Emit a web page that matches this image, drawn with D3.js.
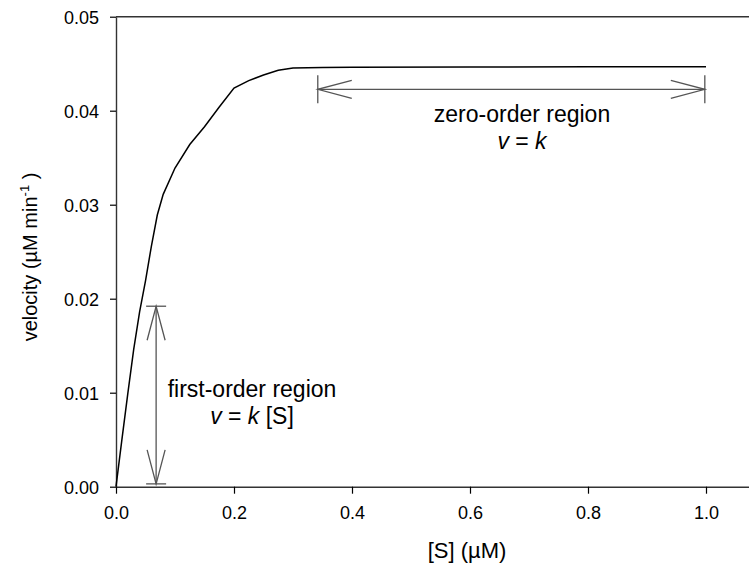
<!DOCTYPE html>
<html>
<head>
<meta charset="utf-8">
<script src="https://cdn.jsdelivr.net/npm/d3@7"></script>
<style>
  body { margin: 0; background: #fff; }
  svg { display: block; font-family: "Liberation Sans", Arial, sans-serif; }
</style>
</head>
<body>
<div id="div_id_main"></div>
<script>

var WIDTH = 749;
var HEIGHT = 568;

// substrate concentration [S] (uM) and velocity (uM/min)
var vSubstrate = [0, 0.01, 0.02, 0.03, 0.04, 0.05, 0.06, 0.07, 0.08, 0.1, 0.125, 0.15, 0.175, 0.2, 0.225, 0.25, 0.275, 0.3, 0.35, 0.4, 0.6, 0.8, 1.0];
var vVelocity  = [0, 0.0050, 0.0099, 0.0146, 0.0186, 0.0219, 0.0256, 0.0289, 0.0311, 0.0339, 0.0364, 0.0383, 0.0404, 0.0424, 0.0432, 0.0438, 0.0443, 0.04455, 0.0446, 0.04462, 0.04465, 0.04467, 0.04468];

var vTickX = [0.0, 0.2, 0.4, 0.6, 0.8, 1.0];
var vTickY = [0.00, 0.01, 0.02, 0.03, 0.04, 0.05];

// annotation arrows: [x1, y1, x2, y2] in data units
var vArrowFirst = [0.068, 0.0192, 0.068, 0.0003];
var vArrowZero  = [0.342, 0.04227, 0.998, 0.04227];

var MARGIN_LEFT = 116;
var MARGIN_TOP = 16.7;
var AXIS_BOTTOM = 486.7;

var fScale_X = d3.scaleLinear().domain([0, 1.1]).range([MARGIN_LEFT, MARGIN_LEFT + 1.1 * 590]);
var fScale_Y = d3.scaleLinear().domain([0, 0.05]).range([AXIS_BOTTOM, MARGIN_TOP]);

var svgMain = d3.select("#div_id_main")
				.append("svg")
					.attr("width", WIDTH)
					.attr("height", HEIGHT);

// ---------------------------------------------------------------
// axes

var axisX = d3.axisBottom(fScale_X)
				.tickValues(vTickX)
				.tickSizeInner(7)
				.tickSizeOuter(0)
				.tickPadding(8)
				.tickFormat(d3.format(".1f"));

var gAxisX = svgMain.append("g")
				.attr("transform", "translate(0," + AXIS_BOTTOM + ")")
				.call(axisX);

var axisY = d3.axisLeft(fScale_Y)
				.tickValues(vTickY)
				.tickSizeInner(6)
				.tickSizeOuter(0)
				.tickPadding(11)
				.tickFormat(d3.format(".2f"));

var gAxisY = svgMain.append("g")
				.attr("transform", "translate(" + MARGIN_LEFT + ",0)")
				.call(axisY);

svgMain.selectAll(".domain")
		.attr("stroke", "#333")
		.attr("stroke-width", 1.4);

svgMain.selectAll(".tick line")
		.attr("stroke", "#000")
		.attr("stroke-width", 1.2);

svgMain.selectAll(".tick text")
		.attr("fill", "#000")
		.style("font-size", "18px")
		.style("font-family", "'Liberation Sans', Arial, sans-serif");

gAxisX.selectAll(".tick text").attr("dy", "0.95em");
gAxisY.selectAll(".tick text").attr("dy", "0.36em");

// top frame line
svgMain.append("line")
		.attr("x1", fScale_X(0))
		.attr("x2", fScale_X(1.1))
		.attr("y1", fScale_Y(0.05))
		.attr("y2", fScale_Y(0.05))
		.attr("stroke", "#333")
		.attr("stroke-width", 1.4);

// axis titles
svgMain.append("text")
		.attr("x", 467)
		.attr("y", 558)
		.attr("text-anchor", "middle")
		.style("font-size", "22px")
		.text("[S] (\u00B5M)");

let textY = svgMain.append("text")
		.attr("transform", "translate(37,257) rotate(-90)")
		.attr("text-anchor", "middle")
		.style("font-size", "20px");

textY.append("tspan").text("velocity (\u00B5M min");
textY.append("tspan").attr("dy", -8).style("font-size", "13px").text("-1");
textY.append("tspan").attr("dy", 8).text(" )");

// ---------------------------------------------------------------
// curve

var dsCurve = vSubstrate.map(function (d, i) { return [d, vVelocity[i]]; });

var line = d3.line()
				.x(function (d) { return fScale_X(d[0]); })
				.y(function (d) { return fScale_Y(d[1]); });

svgMain.append("path")
		.datum(dsCurve)
		.attr("d", line)
		.attr("fill", "none")
		.attr("stroke", "#000")
		.attr("stroke-width", 1.5);

// ---------------------------------------------------------------
// annotation arrows (open heads with end bars)

function funcDraw_Arrow(svg, vArrow, nBarHalf) {

	let x1 = fScale_X(vArrow[0]), y1 = fScale_Y(vArrow[1]);
	let x2 = fScale_X(vArrow[2]), y2 = fScale_Y(vArrow[3]);

	let dx = x2 - x1, dy = y2 - y1;
	let len = Math.sqrt(dx * dx + dy * dy);
	let ux = dx / len, uy = dy / len;
	let px = -uy, py = ux;

	let nHeadLen = 34;
	let nHeadHalf = 9;

	let g = svg.append("g")
				.attr("stroke", "#555")
				.attr("stroke-width", 1.3)
				.attr("fill", "none");

	g.append("line").attr("x1", x1).attr("y1", y1).attr("x2", x2).attr("y2", y2);

	[[x1, y1, 1], [x2, y2, -1]].forEach(function (e) {

		let ex = e[0], ey = e[1], s = e[2];

		g.append("line")
			.attr("x1", ex - px * nBarHalf).attr("y1", ey - py * nBarHalf)
			.attr("x2", ex + px * nBarHalf).attr("y2", ey + py * nBarHalf);

		let bx = ex + ux * nHeadLen * s, by = ey + uy * nHeadLen * s;

		g.append("polyline")
			.attr("points", [
				[bx + px * nHeadHalf, by + py * nHeadHalf],
				[ex, ey],
				[bx - px * nHeadHalf, by - py * nHeadHalf]
			].map(function (p) { return p.join(","); }).join(" "));
	});
}

funcDraw_Arrow(svgMain, vArrowFirst, 10);
funcDraw_Arrow(svgMain, vArrowZero, 14);

// ---------------------------------------------------------------
// annotation texts

function funcDraw_Label(svg, x, y, sTitle, vsFormula) {

	svg.append("text")
		.attr("x", x)
		.attr("y", y)
		.attr("text-anchor", "middle")
		.style("font-size", "23px")
		.text(sTitle);

	let t = svg.append("text")
		.attr("x", x)
		.attr("y", y + 27)
		.attr("text-anchor", "middle")
		.style("font-size", "23px");

	vsFormula.forEach(function (p) {
		t.append("tspan")
			.style("font-style", p[1] ? "italic" : "normal")
			.text(p[0]);
	});
}

funcDraw_Label(svgMain, 252, 397, "first-order region", [["v", true], [" = ", false], ["k", true], [" [S]", false]]);
funcDraw_Label(svgMain, 522, 122, "zero-order region", [["v", true], [" = ", false], ["k", true]]);

</script>
</body>
</html>
